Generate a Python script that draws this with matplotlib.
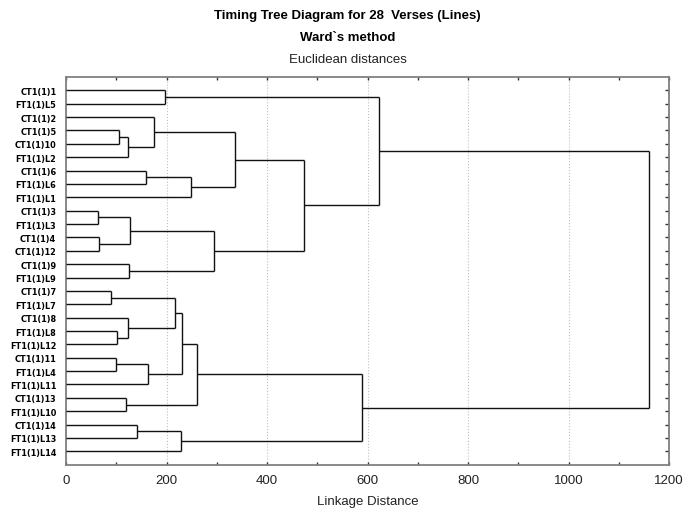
import matplotlib
matplotlib.use("Agg")
import matplotlib.pyplot as plt
from matplotlib.ticker import MultipleLocator

leaf_labels = ["CT1(1)1", "FT1(1)L5", "CT1(1)2", "CT1(1)5", "CT1(1)10", "FT1(1)L2",
               "CT1(1)6", "FT1(1)L6", "FT1(1)L1", "CT1(1)3", "FT1(1)L3", "CT1(1)4",
               "CT1(1)12", "CT1(1)9", "FT1(1)L9", "CT1(1)7", "FT1(1)L7", "CT1(1)8",
               "FT1(1)L8", "FT1(1)L12", "CT1(1)11", "FT1(1)L4", "FT1(1)L11", "CT1(1)13",
               "FT1(1)L10", "CT1(1)14", "FT1(1)L13", "FT1(1)L14"]

# merge k creates cluster id 28 + k
merge_left = [9, 11, 15, 20, 18, 3, 23, 33, 17, 13, 28, 25, 6, 31,
              2, 0, 30, 39, 44, 40, 46, 38, 42, 50, 48, 43, 53]
merge_right = [10, 12, 16, 21, 19, 4, 24, 5, 32, 14, 29, 26, 7, 22,
               35, 1, 36, 27, 41, 8, 34, 37, 47, 49, 45, 51, 52]
merge_height = [64, 66, 90, 100, 102, 106, 119.5, 124, 124, 125, 127, 141, 160, 164,
                175, 197, 216, 228, 230, 248, 261, 294, 337, 473, 590, 623, 1160]

n = len(leaf_labels)
font = ["Liberation Sans", "DejaVu Sans"]

# === Figure ===
fig = plt.figure(figsize=(6.88, 5.10), dpi=100)
ax = fig.add_axes([66 / 688, 1 - 465.7 / 510, (669 - 66) / 688, (465.7 - 78) / 510])

# cluster positions: (y, height)
pos = {i: (float(i), 0.0) for i in range(n)}
for k, (a, b, h) in enumerate(zip(merge_left, merge_right, merge_height)):
    ya, ha = pos[a]
    yb, hb = pos[b]
    ax.plot([ha, h], [ya, ya], color="#111111", lw=1.0, solid_capstyle="butt", zorder=3)
    ax.plot([hb, h], [yb, yb], color="#111111", lw=1.0, solid_capstyle="butt", zorder=3)
    ax.plot([h, h], [ya, yb], color="#111111", lw=1.0, solid_capstyle="butt", zorder=3)
    pos[n + k] = ((ya + yb) / 2, h)

ax.set_xlim(0, 1200)
ax.set_ylim(n, -1)

ax.set_yticks(range(n))
ax.set_yticklabels(leaf_labels, fontsize=5.9, fontweight="bold", family="DejaVu Sans")
ax.tick_params(axis="y", left=False, right=True, direction="in", length=3,
               width=1, color="#333333", pad=7)

ax.xaxis.set_major_locator(MultipleLocator(200))
ax.xaxis.set_minor_locator(MultipleLocator(100))
ax.tick_params(axis="x", which="both", top=True, bottom=True, direction="in",
               length=2.5, width=1, color="#333333", labelsize=9.5, pad=7)
for lbl in ax.get_xticklabels():
    lbl.set_family(font)
    lbl.set_color("#222222")

ax.grid(axis="x", which="major", linestyle=":", color="#c0c0c0", lw=0.8)
for side in ["left", "right", "top", "bottom"]:
    ax.spines[side].set_color("#808080")
    ax.spines[side].set_linewidth(1.3)

ax.set_xlabel("Linkage Distance", fontsize=9.5, family=font, color="#222222", labelpad=6)

fig.text(0.505, 1 - 16 / 510, "Timing Tree Diagram for 28  Verses (Lines)", ha="center", va="center",
         fontsize=9.5, fontweight="bold", family=font)
fig.text(0.505, 1 - 38 / 510, "Ward`s method", ha="center", va="center",
         fontsize=9.5, fontweight="bold", family=font)
fig.text(0.505, 1 - 60 / 510, "Euclidean distances", ha="center", va="center",
         fontsize=9.5, family=font, color="#222222")

fig.savefig("out.png", dpi=100)
